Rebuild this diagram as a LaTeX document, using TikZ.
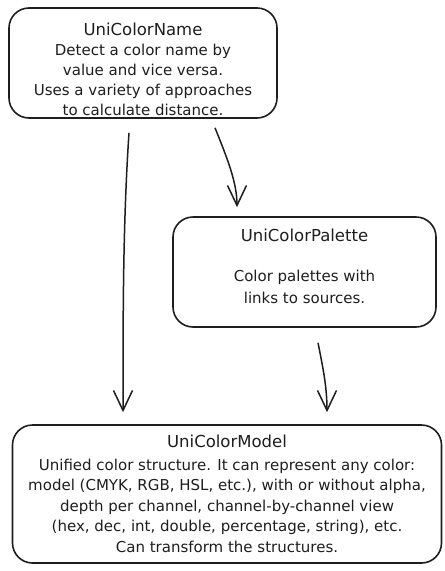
\documentclass[tikz,border=0pt]{standalone}
\usepackage{fontspec}
\setmainfont{DejaVu Sans}
\usetikzlibrary{arrows.meta}
\definecolor{ink}{HTML}{1E1E1E}
\tikzset{
  card/.style={draw=ink, line width=1.6pt, rounded corners=20pt, fill=white,
    align=center, inner sep=0pt, text=ink, font=\fontsize{15}{20.5}\selectfont},
  txt/.style={align=center, inner sep=0pt, text=ink, font=\fontsize{15}{20}\selectfont},
  ttl/.style={txt, font=\fontsize{16.5}{20}\selectfont},
  conn/.style={draw=ink, line width=1.5pt, -{Straight Barb[length=20pt,width=19pt,line width=1.5pt]}}
}
\begin{document}
\begin{tikzpicture}[x=1pt,y=-1pt]
\useasboundingbox (0,0) rectangle (445,571);
\fill[white] (0,0) rectangle (445,571);
\node[card, minimum width=268pt, minimum height=110pt] (name) at (143,63) {};
\node[txt] (nameText) at (143,69)
  {{\fontsize{16.5}{20}\selectfont UniColorName}\\Detect a color name by\\value and vice versa.\\Uses a variety of approaches\\to calculate distance.};
\node[card, minimum width=263pt, minimum height=110pt] (palette) at (304.5,272) {};
\node[ttl] (paletteTitle) at (304.5,235) {UniColorPalette};
\node[txt, font=\fontsize{15}{22}\selectfont] (paletteText) at (304.5,287) {Color palettes with\\links to sources.};
\node[card, minimum width=429pt, minimum height=138pt] (model) at (227,494)
  {{\fontsize{16.5}{20}\selectfont UniColorModel}\\[2pt]Unified color structure. It can represent any color:\\model (CMYK, RGB, HSL, etc.), with or without alpha,\\depth per channel, channel-by-channel view\\(hex, dec, int, double, percentage, string), etc.\\Can transform the structures.};
\draw[conn] ([xshift=-14pt,yshift=-14pt]name.south) .. controls +(-6,90) and +(0,-100) .. ([xshift=-104pt,yshift=12pt]model.north);
\draw[conn] ([xshift=72pt,yshift=-9pt]name.south) .. controls +(12,30) and +(0,-25) .. ([xshift=-67.5pt,yshift=9pt]palette.north);
\draw[conn] ([xshift=13.5pt,yshift=-15pt]palette.south) .. controls +(5,25) and +(0,-25) .. ([xshift=100pt,yshift=12pt]model.north);
\end{tikzpicture}
\end{document}
